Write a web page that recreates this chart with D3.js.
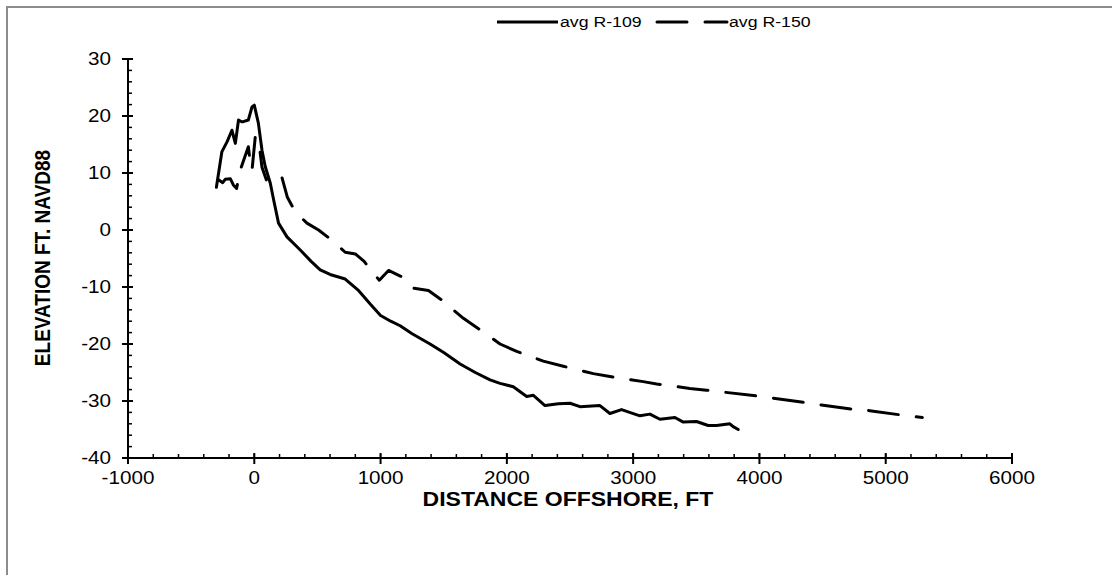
<!DOCTYPE html>
<html lang="en">
<head>
	<meta charset="UTF-8">
	<title>Profiles</title>
	<style>
		body { margin: 0; background: #fff; }
		text { font-family: "Liberation Sans", Arial, sans-serif; }
	</style>
</head>
<body>
	<script src="https://cdn.jsdelivr.net/npm/d3@7/dist/d3.min.js"></script>

	<script type="text/javascript">

		// avg R-109 (solid line)
		var r109X = [-300, -257, -215, -177, -150, -125, -100, -87, -47, -18,
			0, 32, 61, 87, 127, 153, 192, 259, 364, 450,
			522, 600, 720, 820, 918, 1000, 1080, 1155, 1250, 1392,
			1500, 1630, 1750, 1867, 1946, 2051, 2157, 2210, 2302, 2408,
			2500, 2579, 2737, 2816, 2908, 3054, 3133, 3212, 3331, 3397,
			3502, 3594, 3660, 3766, 3792, 3832];
		var r109Y = [7.5, 13.7, 15.5, 17.5, 15.2, 19.3, 19.0, 19, 19.3, 21.6,
			21.9, 18.8, 14, 11.1, 8.2, 5.3, 1.2, -1.2, -3.5, -5.5,
			-7, -7.8, -8.6, -10.5, -13, -15, -16, -16.8, -18.2, -20,
			-21.5, -23.5, -25, -26.3, -26.9, -27.5, -29.2, -29, -30.8, -30.5,
			-30.4, -31, -30.8, -32.2, -31.5, -32.6, -32.3, -33.2, -32.9, -33.7,
			-33.6, -34.3, -34.3, -34, -34.5, -35];

		// avg R-150 (dashed line)
		var r150X = [-283, -250, -230, -190, -166, -140, -111, -80, -47, -30,
			-18, 8, 34, 61, 95, 127, 166, 219, 261, 324,
			417, 509, 627, 720, 800, 870, 940, 990, 1063, 1168,
			1260, 1379, 1485, 1656, 1788, 1946, 2078, 2289, 2447, 2685,
			2816, 3080, 3186, 3449, 3581, 3976, 4108, 4373, 4491, 4755,
			4873, 5137, 5290];
		var r150Y = [8.8, 8.3, 8.9, 9, 7.9, 7.3, 10.5, 12.5, 14.6, 11.5,
			10.5, 16.4, 15.8, 11, 8.8, 9.6, 9.9, 9.2, 5.8, 3.2,
			1.2, 0, -2, -3.9, -4.2, -5.5, -7.5, -8.8, -7.1, -8.2,
			-10.2, -10.6, -12.3, -15.5, -17.5, -20, -21.3, -23, -23.9, -25.2,
			-25.7, -26.6, -27, -27.8, -28.1, -29.1, -29.5, -30.3, -30.7, -31.5,
			-31.7, -32.5, -32.9];

		var seriesNames = ["avg R-109", "avg R-150"];

		// tick values
		var xTicks = [-1000, 0, 1000, 2000, 3000, 4000, 5000, 6000];
		var yTicks = [-40, -30, -20, -10, 0, 10, 20, 30];

		var width = 1112;
		var height = 575;

		// the original picture is a little stretched sideways
		var stretch = 1.18;

		var svg = d3.select("body")
					.append("svg")
					.attr("width", width)
					.attr("height", height);

		// chart frame (left and top edges are visible)
		svg.append("path")
			.attr("d", "M7,575 L7,7 L1112,7")
			.attr("fill", "none")
			.attr("stroke", "#8c8c8c")
			.attr("stroke-width", 2);

		var x = d3.scaleLinear().domain([-1000, 6000]).range([128, 1012]);
		var y = d3.scaleLinear().domain([-40, 30]).range([458, 59]);

		var black = "#000";

		function place(px, py) {
			return "translate(" + px + "," + py + ") scale(" + stretch + ",1)";
		}

		// x axis: minor ticks every 200, inside
		var xAxis = svg.append("g").attr("transform", "translate(0," + y(-40) + ")");
		xAxis.append("line")
			.attr("x1", x(-1000)).attr("x2", x(6000))
			.attr("stroke", black).attr("stroke-width", 2);
		xAxis.selectAll(".minor")
			.data(d3.range(-1000, 6001, 200))
			.enter().append("line")
			.attr("x1", function(d) { return x(d); })
			.attr("x2", function(d) { return x(d); })
			.attr("y1", -4).attr("y2", 0)
			.attr("stroke", black).attr("stroke-width", 1.5);
		xAxis.selectAll(".major")
			.data(xTicks)
			.enter().append("line")
			.attr("x1", function(d) { return x(d); })
			.attr("x2", function(d) { return x(d); })
			.attr("y1", -5).attr("y2", 6)
			.attr("stroke", black).attr("stroke-width", 2);
		xAxis.selectAll("text")
			.data(xTicks)
			.enter().append("text")
			.attr("transform", function(d) { return place(x(d), 26); })
			.attr("text-anchor", "middle")
			.attr("font-size", "17.5px")
			.text(function(d) { return d; });

		// y axis: minor ticks every 2, inside
		var yAxis = svg.append("g").attr("transform", "translate(" + x(-1000) + ",0)");
		yAxis.append("line")
			.attr("y1", y(-40)).attr("y2", y(30))
			.attr("stroke", black).attr("stroke-width", 2);
		yAxis.selectAll(".minor")
			.data(d3.range(-40, 31, 2))
			.enter().append("line")
			.attr("y1", function(d) { return y(d); })
			.attr("y2", function(d) { return y(d); })
			.attr("x1", 0).attr("x2", 4)
			.attr("stroke", black).attr("stroke-width", 1.5);
		yAxis.selectAll(".major")
			.data(yTicks)
			.enter().append("line")
			.attr("y1", function(d) { return y(d); })
			.attr("y2", function(d) { return y(d); })
			.attr("x1", -6).attr("x2", 5)
			.attr("stroke", black).attr("stroke-width", 2);
		yAxis.selectAll("text")
			.data(yTicks)
			.enter().append("text")
			.attr("transform", function(d) { return place(-17, y(d)); })
			.attr("dy", "0.35em")
			.attr("text-anchor", "end")
			.attr("font-size", "17.5px")
			.text(function(d) { return d; });

		// axis titles
		svg.append("text")
			.attr("transform", place(568, 506))
			.attr("text-anchor", "middle")
			.attr("font-size", "19.5px")
			.attr("font-weight", "bold")
			.text("DISTANCE OFFSHORE, FT");

		svg.append("text")
			.attr("transform", "translate(50,258) rotate(-90) scale(1," + stretch + ")")
			.attr("text-anchor", "middle")
			.attr("font-size", "19px")
			.attr("font-weight", "bold")
			.text("ELEVATION FT. NAVD88");

		// lines
		var line = d3.line()
			.x(function(d) { return x(d[0]); })
			.y(function(d) { return y(d[1]); });

		var s109 = d3.zip(r109X, r109Y);
		var s150 = d3.zip(r150X, r150Y);

		svg.append("path")
			.datum(s109)
			.attr("d", line)
			.attr("fill", "none")
			.attr("stroke", black)
			.attr("stroke-width", 3)
			.attr("stroke-linejoin", "round")
			.attr("stroke-linecap", "round");

		svg.append("path")
			.datum(s150)
			.attr("d", line)
			.attr("fill", "none")
			.attr("stroke", black)
			.attr("stroke-width", 3)
			.attr("stroke-dasharray", "30,18")
			.attr("stroke-linejoin", "round")
			.attr("stroke-linecap", "round");

		// legend
		var legend = svg.append("g");
		legend.append("line")
			.attr("x1", 497).attr("x2", 558)
			.attr("y1", 22).attr("y2", 22)
			.attr("stroke", black).attr("stroke-width", 3);
		legend.append("text")
			.attr("transform", place(560, 22))
			.attr("dy", "0.35em")
			.attr("font-size", "15px")
			.text(seriesNames[0]);
		legend.append("line")
			.attr("x1", 657).attr("x2", 727)
			.attr("y1", 22).attr("y2", 22)
			.attr("stroke", black).attr("stroke-width", 3)
			.attr("stroke-dasharray", "30,18")
			.attr("stroke-linecap", "round");
		legend.append("text")
			.attr("transform", place(729, 22))
			.attr("dy", "0.35em")
			.attr("font-size", "15px")
			.text(seriesNames[1]);

	</script>
</body>
</html>
